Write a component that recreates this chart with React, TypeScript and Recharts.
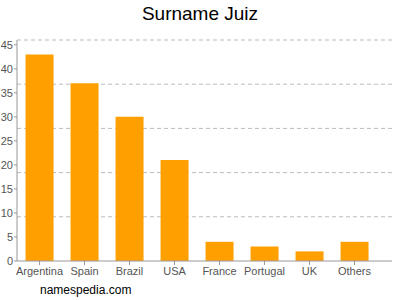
import React from "react";
import { BarChart, Bar, XAxis, YAxis, CartesianGrid } from "recharts";

const categories = ["Argentina", "Spain", "Brazil", "USA", "France", "Portugal", "UK", "Others"];
const counts = [43, 37, 30, 21, 4, 3, 2, 4];
const yTicks = [0, 5, 10, 15, 20, 25, 30, 35, 40, 45];
const gridTicks = [9.2, 18.4, 27.6, 36.8, 46];
const yMax = 46;

const data = categories.map((name, i) => ({ name, value: counts[i] }));

function mapValue(props: any, v: number): number {
  const s = props && props.yAxis ? props.yAxis.scale : null;
  if (typeof s === "function") return s(v);
  if (s && typeof s.map === "function") return s.map(v);
  if (s && typeof s.scale === "function") return s.scale(v);
  const off = props.offset;
  return off.top + off.height * (1 - v / yMax);
}

export default function App() {
  return (
    <div style={{ position: "absolute", left: 0, top: 0, width: 400, height: 300, background: "#fff", fontFamily: "'Liberation Sans', Arial, sans-serif" }}>
      <div style={{ position: "absolute", left: 0, width: 400, top: 3, textAlign: "center", fontSize: 19, color: "#000" }}>
        Surname Juiz
      </div>
      <BarChart width={400} height={300} data={data} margin={{ top: 40, right: 8, bottom: 19, left: 0 }} barCategoryGap="19%">
        <CartesianGrid
          vertical={false}
          stroke="#bbb"
          strokeDasharray="4 3"
          horizontalCoordinatesGenerator={(props: any) => gridTicks.map((v) => mapValue(props, v))}
        />
        <XAxis
          dataKey="name"
          height={20}
          padding={{ left: 0, right: 15 }}
          tick={{ fontSize: 11, fill: "#555" }}
          tickLine={{ stroke: "#999" }}
          axisLine={{ stroke: "#999" }}
          tickSize={4}
          interval={0}
        />
        <YAxis
          width={17}
          domain={[0, yMax]}
          ticks={yTicks}
          tick={{ fontSize: 11, fill: "#555" }}
          tickLine={{ stroke: "#999" }}
          axisLine={{ stroke: "#999" }}
          tickSize={3}
          tickMargin={1}
        />
        <Bar dataKey="value" fill="#FFA000" isAnimationActive={false} />
      </BarChart>
      <div style={{ position: "absolute", left: 40, top: 283, fontSize: 12, color: "#000" }}>namespedia.com</div>
    </div>
  );
}
